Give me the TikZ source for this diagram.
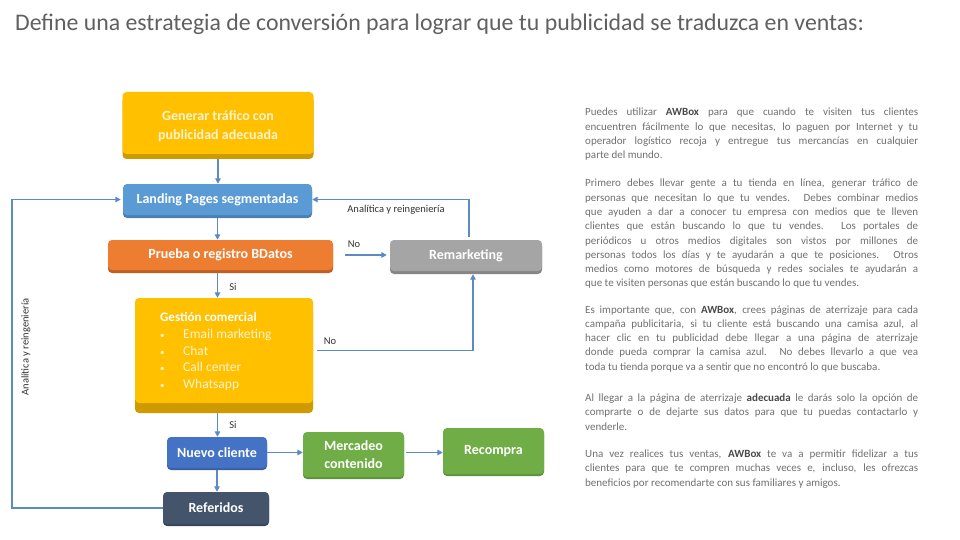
\documentclass[tikz,border=0pt]{standalone}
\usepackage{fontspec}
\setmainfont{Carlito}
\usetikzlibrary{arrows.meta,shadows}
\definecolor{cYellow}{HTML}{FFC000}
\definecolor{cYellowD}{HTML}{CF9A00}
\definecolor{cBlue}{HTML}{5B9BD5}
\definecolor{cBlueD}{HTML}{4A80B5}
\definecolor{cOrange}{HTML}{ED7D31}
\definecolor{cOrangeD}{HTML}{BF6022}
\definecolor{cGray}{HTML}{A5A5A5}
\definecolor{cGrayD}{HTML}{868686}
\definecolor{cNavy}{HTML}{4472C4}
\definecolor{cNavyD}{HTML}{3A5FA3}
\definecolor{cSlate}{HTML}{44546A}
\definecolor{cSlateD}{HTML}{384559}
\definecolor{cGreen}{HTML}{70AD47}
\definecolor{cGreenD}{HTML}{5E933B}
\definecolor{cArrow}{HTML}{5B8AC5}
\definecolor{cText}{HTML}{707070}
\definecolor{cBold}{HTML}{4A4A4A}
\definecolor{cTitle}{HTML}{606060}
\definecolor{cCream}{HTML}{FFF3CF}
\newcommand{\awb}[1]{\textbf{\color{cBold}#1}}
\begin{document}
\begin{tikzpicture}[x=1pt, y=-1pt,
    every node/.style={font=\fontsize{10.5}{12}\selectfont},
    box/.style={rounded corners=4pt, inner sep=2pt, text=white, align=center,
      font=\bfseries\fontsize{14}{18}\selectfont},
    shad/.style 2 args={drop shadow={shadow xshift=0pt, shadow yshift=-#1pt,
      fill=#2, opacity=1}},
    arr/.style={-{Triangle[length=5.5pt,width=5.5pt]}, line width=1.4pt, draw=cArrow},
    lbl/.style={inner sep=0pt, text=black!80},
    para/.style={anchor=north west, text width=333pt, align=justify, inner sep=0pt,
      text=cText, font=\fontsize{11}{14.3}\selectfont},
    gitem/.style={inner sep=0pt, text=cCream, font=\fontsize{13.5}{16}\selectfont}]
  \useasboundingbox[fill=white] (0,0) rectangle (960,540);
  % title
  \node[anchor=base west, inner sep=0pt, text=cTitle, font=\fontsize{23.8}{28}\selectfont]
    (title) at (15,31) {Define una estrategia de conversión para lograr que tu publicidad se traduzca en ventas:};
  % flow boxes
  \node[box, fill=cYellow, shad={5}{cYellowD}, text=cCream, minimum width=191pt, minimum height=62pt,
    text height=36pt, font=\bfseries\fontsize{14}{19}\selectfont] (gen) at (218,123) {Generar tráfico con\\publicidad adecuada};
  \node[box, fill=cBlue, shad={3}{cBlueD}, minimum width=189pt, minimum height=31pt] (land) at (217.5,199.5) {Landing Pages segmentadas};
  \node[box, fill=cOrange, shad={3}{cOrangeD}, minimum width=225pt, minimum height=30pt] (prueba) at (220.5,255) {Prueba o registro BDatos};
  \node[box, fill=cGray, shad={3}{cGrayD}, minimum width=152pt, minimum height=31pt] (remk) at (466,255.5) {Remarketing};
  \node[box, fill=cYellow, shad={10}{cYellowD}, minimum width=178pt, minimum height=105pt] (gest) at (224,350.5) {};
  \node[box, fill=cNavy, shad={2}{cNavyD}, minimum width=100pt, minimum height=31pt] (nuevo) at (217,452.5) {Nuevo cliente};
  \node[box, fill=cSlate, shad={2}{cSlateD}, minimum width=106pt, minimum height=32pt] (refer) at (216,508) {Referidos};
  \node[box, fill=cGreen, shad={2}{cGreenD}, minimum width=101pt, minimum height=45pt] (merc) at (353.5,454.5) {Mercadeo\\contenido};
  \node[box, fill=cGreen, shad={2}{cGreenD}, minimum width=101pt, minimum height=46pt] (recom) at (493.5,451) {Recompra};
  % gestion comercial text
  \node[anchor=base west, inner sep=0pt, text=white, font=\bfseries\fontsize{13}{16}\selectfont]
    (gestT) at (160,321) {Gestión comercial};
  \foreach \t [count=\i] in {Email marketing, Chat, Call center, Whatsapp} {
    \node[gitem, anchor=base west, font=\fontsize{9}{10}\selectfont] (gb\i) at (160,{322+16.5*\i}) {\textbullet};
    \node[gitem, anchor=base west] (gi\i) at (183,{322+16.5*\i}) {\t};
  }
  % connectors
  \draw[arr, shorten <=5pt] (gen.south) -- (gen.south |- land.north);
  \draw[arr, shorten <=3pt] (land.south) -- (land.south |- prueba.north);
  \draw[arr, shorten <=3pt] (prueba.south -| land.south) -- (gest.north -| land.south);
  \draw[arr, shorten <=10pt] (gest.south -| land.south) -- (nuevo.north -| land.south);
  \draw[arr, shorten <=2pt] (nuevo.south) -- (nuevo.south |- refer.north);
  \draw[arr, shorten <=12pt, shorten >=3pt] (prueba.east) -- (prueba.east -| remk.west);
  \draw[arr, shorten <=3pt] ([xshift=3pt]remk.north) |- (land.east);
  \draw[arr, shorten <=4pt, shorten >=3pt] (gest.east) -| ([xshift=7pt]remk.south);
  \draw[arr, shorten >=2pt] (refer.west) -- ++(-151,0) |- (land.west);
  \draw[arr] (nuevo.east) -- (nuevo.east -| merc.west);
  \draw[arr, shorten <=2pt] (merc.east |- nuevo.east) -- (nuevo.east -| recom.west);
  % labels
  \node[lbl] (noA) at (354,244) {No};
  \node[lbl] (siA) at (233,287) {Si};
  \node[lbl] (noB) at (330,341) {No};
  \node[lbl] (siB) at (233,425) {Si};
  \node[lbl] (anaA) at (396,210) {Analítica y reingeniería};
  \node[lbl, rotate=90] (anaB) at (26,347) {Analítica y reingeniería};
  % right column
  \node[para] (p1) at (585,108) {Puedes utilizar \awb{AWBox} para que cuando te visiten tus clientes\linebreak
    encuentren fácilmente lo que necesitas, lo paguen por Internet y tu\linebreak
    operador logístico recoja y entregue tus mercancías en cualquier\linebreak
    parte del mundo.};
  \node[para] (p2) at (585,179) {Primero debes llevar gente a tu tienda en línea, generar tráfico de\linebreak
    personas que necesitan lo que tu vendes. Debes combinar medios\linebreak
    que ayuden a dar a conocer tu empresa con medios que te lleven\linebreak
    clientes que están buscando lo que tu vendes. Los portales de\linebreak
    periódicos u otros medios digitales son vistos por millones de\linebreak
    personas todos los días y te ayudarán a que te posiciones. Otros\linebreak
    medios como motores de búsqueda y redes sociales te ayudarán a\linebreak
    que te visiten personas que están buscando lo que tu vendes.};
  \node[para] (p3) at (585,305.2) {Es importante que, con \awb{AWBox}, crees páginas de aterrizaje para cada\linebreak
    campaña publicitaria, si tu cliente está buscando una camisa azul, al\linebreak
    hacer clic en tu publicidad debe llegar a una página de aterrizaje\linebreak
    donde pueda comprar la camisa azul. No debes llevarlo a que vea\linebreak
    toda tu tienda porque va a sentir que no encontró lo que buscaba.};
  \node[para] (p4) at (585,393.7) {Al llegar a la página de aterrizaje \awb{adecuada} le darás solo la opción de\linebreak
    comprarte o de dejarte sus datos para que tu puedas contactarlo y\linebreak
    venderle.};
  \node[para] (p5) at (585,449.8) {Una vez realices tus ventas, \awb{AWBox} te va a permitir fidelizar a tus\linebreak
    clientes para que te compren muchas veces e, incluso, les ofrezcas\linebreak
    beneficios por recomendarte con sus familiares y amigos.};
\end{tikzpicture}
\end{document}
